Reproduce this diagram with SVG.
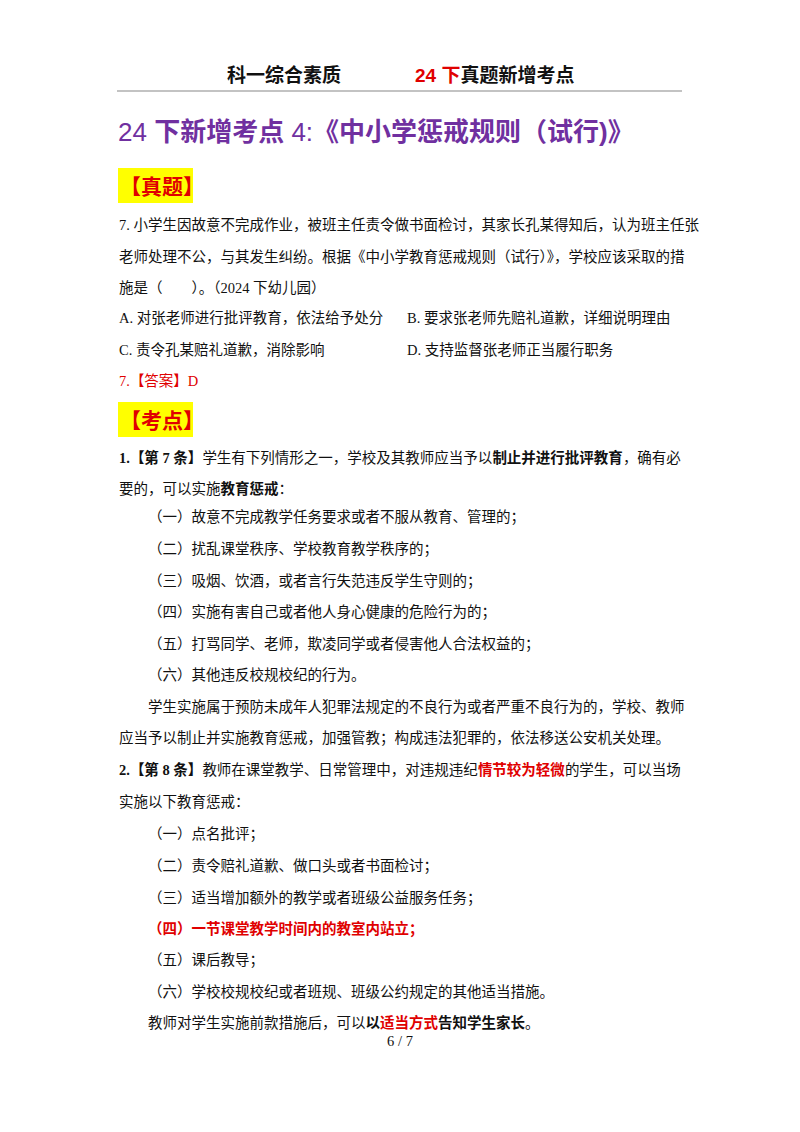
<svg xmlns="http://www.w3.org/2000/svg" width="800" height="1132" viewBox="0 0 800 1132">
<style>
text{font-family:"Liberation Serif","Noto Sans CJK SC",serif;font-size:14.5px;fill:#111}
.h{font-family:"Liberation Sans","Noto Sans CJK SC",sans-serif;font-weight:bold;font-size:19px}
.t{font-family:"Liberation Sans","Noto Sans CJK SC",sans-serif;font-size:26px;fill:#7030A0}
.k{font-family:"Noto Sans CJK SC",sans-serif;font-weight:bold;font-size:21px;fill:#E00000}
.r{fill:#E00000}
.b{font-weight:bold}
</style>
<rect width="800" height="1132" fill="#fff"/>
<text class="h" x="227" y="82">科一综合素质</text>
<text class="h" x="415" y="82"><tspan fill="#E00000">24 下</tspan>真题新增考点</text>
<line x1="117" y1="91" x2="682" y2="91" stroke="#888" stroke-width="1.2"/>
<text class="t" x="118" y="141">24 <tspan font-weight="bold">下新增考点</tspan> 4:<tspan font-weight="bold">《中小学惩戒规则（试行)》</tspan></text>
<rect x="118" y="168" width="75" height="35" fill="#FFFF00"/>
<text class="k" x="120" y="194">【真题】</text>
<text x="119" y="230">7. 小学生因故意不完成作业，被班主任责令做书面检讨，其家长孔某得知后，认为班主任张</text>
<text x="119" y="262">老师处理不公，与其发生纠纷。根据《中小学教育惩戒规则（试行）》，学校应该采取的措</text>
<text x="119" y="293">施是（　　）。（2024 下幼儿园）</text>
<text x="119" y="323">A. 对张老师进行批评教育，依法给予处分</text>
<text x="407" y="323">B. 要求张老师先赔礼道歉，详细说明理由</text>
<text x="119" y="355">C. 责令孔某赔礼道歉，消除影响</text>
<text x="407" y="355">D. 支持监督张老师正当履行职务</text>
<text x="119" y="386" class="r">7.【答案】D</text>
<rect x="118" y="402" width="75" height="35" fill="#FFFF00"/>
<text class="k" x="120" y="428">【考点】</text>
<text x="119" y="463"><tspan class="b">1.【第 7 条】</tspan>学生有下列情形之一，学校及其教师应当予以<tspan class="b">制止并进行批评教育</tspan>，确有必</text>
<text x="119" y="494">要的，可以实施<tspan class="b">教育惩戒</tspan>：</text>
<text x="148" y="522">（一）故意不完成教学任务要求或者不服从教育、管理的；</text>
<text x="148" y="554">（二）扰乱课堂秩序、学校教育教学秩序的；</text>
<text x="148" y="586">（三）吸烟、饮酒，或者言行失范违反学生守则的；</text>
<text x="148" y="617">（四）实施有害自己或者他人身心健康的危险行为的；</text>
<text x="148" y="649">（五）打骂同学、老师，欺凌同学或者侵害他人合法权益的；</text>
<text x="148" y="680">（六）其他违反校规校纪的行为。</text>
<text x="148" y="712">学生实施属于预防未成年人犯罪法规定的不良行为或者严重不良行为的，学校、教师</text>
<text x="119" y="743">应当予以制止并实施教育惩戒，加强管教；构成违法犯罪的，依法移送公安机关处理。</text>
<text x="119" y="775"><tspan class="b">2.【第 8 条】</tspan>教师在课堂教学、日常管理中，对违规违纪<tspan class="b r">情节较为轻微</tspan>的学生，可以当场</text>
<text x="119" y="807">实施以下教育惩戒：</text>
<text x="148" y="839">（一）点名批评；</text>
<text x="148" y="871">（二）责令赔礼道歉、做口头或者书面检讨；</text>
<text x="148" y="903">（三）适当增加额外的教学或者班级公益服务任务；</text>
<text x="148" y="934" class="b r">（四）一节课堂教学时间内的教室内站立；</text>
<text x="148" y="965">（五）课后教导；</text>
<text x="148" y="997">（六）学校校规校纪或者班规、班级公约规定的其他适当措施。</text>
<text x="148" y="1028">教师对学生实施前款措施后，可以<tspan class="b">以<tspan class="r">适当方式</tspan>告知学生家长</tspan>。</text>
<text x="400" y="1046" text-anchor="middle" font-size="12">6 / 7</text>
</svg>
